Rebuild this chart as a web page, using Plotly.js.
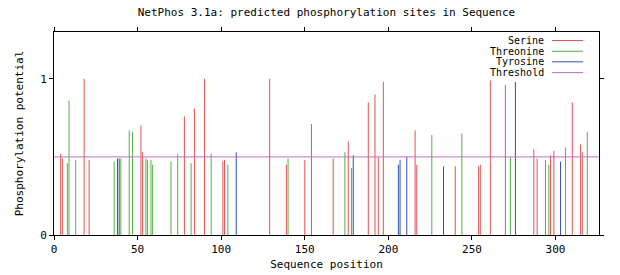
<!DOCTYPE html>
<html>
<head>
<meta charset="utf-8">
<script src="https://cdn.plot.ly/plotly-3.0.1.min.js"></script>
<style>
html,body{margin:0;padding:0;background:#fff;}
#chart{width:620px;height:275px;}
</style>
</head>
<body>
<div id="chart"></div>
<script>
// Serine sites
const serinePos = [4, 5, 18, 21, 52, 53, 78, 84, 90, 101, 102, 129, 139, 150, 154, 167, 176, 188, 192, 194, 197, 216, 217, 240, 254, 255, 261, 270, 287, 289, 297, 299, 310, 315, 316];
const serineVal = [0.52, 0.49, 1.00, 0.48, 0.70, 0.53, 0.76, 0.81, 1.00, 0.47, 0.48, 1.00, 0.45, 0.48, 0.71, 0.49, 0.60, 0.85, 0.90, 0.50, 0.98, 0.67, 0.45, 0.44, 0.44, 0.45, 0.99, 0.96, 0.55, 0.49, 0.51, 0.54, 0.85, 0.58, 0.53];
// Threonine sites
const threoninePos = [8, 9, 13, 36, 40, 45, 47, 55, 56, 58, 59, 70, 74, 82, 94, 104, 140, 174, 178, 226, 244, 273, 294, 296, 306, 319];
const threonineVal = [0.46, 0.86, 0.48, 0.47, 0.49, 0.67, 0.66, 0.49, 0.48, 0.48, 0.45, 0.47, 0.52, 0.46, 0.52, 0.45, 0.49, 0.53, 0.43, 0.64, 0.65, 0.50, 0.48, 0.45, 0.56, 0.66];
// Tyrosine sites
const tyrosinePos = [38, 39, 109, 179, 206, 207, 211, 233, 276, 303];
const tyrosineVal = [0.49, 0.49, 0.53, 0.51, 0.45, 0.48, 0.50, 0.44, 0.98, 0.47];
// Threshold
const threshold = 0.5;
const xTicks = [0, 50, 100, 150, 200, 250, 300];
const yTicks = [0, 1];
const legendNames = ["Serine", "Threonine", "Tyrosine", "Threshold"];

const colors = {Serine: "#e45454", Threonine: "#52b242", Tyrosine: "#3050b0", Threshold: "#c070c0"};
const FONT = "DejaVu Sans Mono, Liberation Mono, monospace";

function spikes(pos, vals) {
  const x = [], y = [];
  pos.forEach((p, i) => { x.push(p, p, null); y.push(0, vals[i], null); });
  return {x, y};
}
function trace(name, pos, vals) {
  const s = spikes(pos, vals);
  return {x: s.x, y: s.y, type: "scatter", mode: "lines", name: name,
          line: {color: colors[name], width: 1}, hoverinfo: "skip", showlegend: false};
}

const data = [
  trace("Serine", serinePos, serineVal),
  trace("Threonine", threoninePos, threonineVal),
  trace("Tyrosine", tyrosinePos, tyrosineVal)
];

// legend built as gnuplot-style key (text right, sample line at its right)
const rowsY = [0.958, 0.905, 0.853, 0.800];
const annotations = legendNames.map((n, i) => ({
  xref: "paper", yref: "paper", x: 0.901, y: rowsY[i], xanchor: "right", yanchor: "middle",
  text: n, showarrow: false, borderpad: 0, font: {family: FONT, size: 10, color: "#000"}
}));
const shapes = [
  {type: "line", xref: "paper", yref: "y", x0: 0, x1: 1, y0: threshold, y1: threshold,
   line: {color: colors.Threshold, width: 1}}
].concat(legendNames.map((n, i) => ({
  type: "line", xref: "paper", yref: "paper", x0: 0.914, x1: 0.971, y0: rowsY[i], y1: rowsY[i],
  line: {color: colors[n], width: 1}
})));

const layout = {
  width: 620, height: 275,
  margin: {l: 54, r: 21, t: 32, b: 40, pad: 0},
  paper_bgcolor: "#fff", plot_bgcolor: "#fff",
  font: {family: FONT, size: 11, color: "#000"},
  title: {text: "NetPhos 3.1a: predicted phosphorylation sites in Sequence",
          x: 0.5, xref: "paper", y: 0.955, yref: "container", yanchor: "middle",
          font: {family: FONT, size: 11, color: "#000"}},
  xaxis: {range: [0, 326], tickvals: xTicks, ticktext: xTicks.map(String),
          showgrid: false, zeroline: false, showline: true, mirror: "ticks",
          linecolor: "#000", linewidth: 1, ticks: "outside", ticklen: 4, tickcolor: "#000",
          tickfont: {family: FONT, size: 11}, fixedrange: true,
          title: {text: "Sequence position", standoff: 5, font: {family: FONT, size: 11}}},
  yaxis: {range: [0, 1.3], tickvals: yTicks, ticktext: yTicks.map(String),
          showgrid: false, zeroline: false, showline: true, mirror: "ticks",
          linecolor: "#000", linewidth: 1, ticks: "outside", ticklen: 4, tickcolor: "#000",
          tickfont: {family: FONT, size: 11}, fixedrange: true,
          title: {text: "Phosphorylation potential", standoff: 14, font: {family: FONT, size: 11}}},
  showlegend: false,
  annotations: annotations,
  shapes: shapes
};

Plotly.newPlot("chart", data, layout, {staticPlot: true, displayModeBar: false});
</script>
</body>
</html>
